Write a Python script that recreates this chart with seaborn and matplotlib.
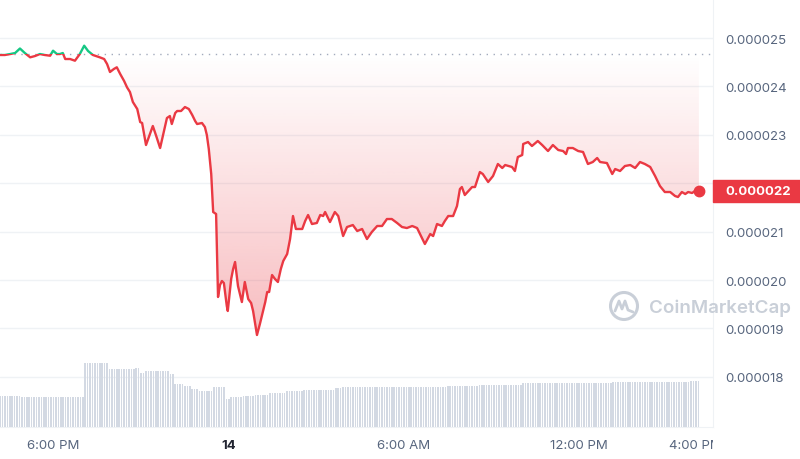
import numpy as np
import pandas as pd
import matplotlib
matplotlib.use("Agg")
import matplotlib.pyplot as plt
import matplotlib.dates as mdates
from matplotlib.patches import Rectangle, Circle
from matplotlib.lines import Line2D
from matplotlib.path import Path
from matplotlib.transforms import blended_transform_factory, Bbox, TransformedBbox
from matplotlib.colors import to_rgb
import seaborn as sns

# --- data ---
# minutes after 16:11 on the 13th, price in millionths of a dollar
minutes = [0, 10, 21, 31, 41, 51, 62, 72, 82, 92, 103, 109, 117, 123, 129, 134, 144, 154,
           164, 173, 181, 191, 199, 205, 214, 220, 226, 234, 240, 247, 255, 261, 267, 273,
           282, 288, 292, 300, 308, 314, 321, 329, 337, 343, 349, 353, 360, 364, 372, 380,
           388, 395, 401, 405, 415, 421, 425, 429, 434, 438, 444, 448, 452, 456, 460, 466,
           468, 475, 479, 483, 489, 497, 503, 510, 516, 520, 528, 534, 538, 545, 549, 553,
           559, 565, 571, 577, 582, 590, 596, 602, 608, 616, 621, 627, 633, 641, 651, 658,
           664, 668, 678, 688, 695, 705, 713, 725, 734, 744, 754, 764, 775, 785, 795, 805,
           816, 826, 836, 847, 857, 863, 873, 884, 890, 898, 908, 914, 921, 931, 939, 945,
           949, 955, 970, 976, 986, 992, 1003, 1013, 1023, 1032, 1038, 1052, 1058, 1064,
           1073, 1075, 1085, 1093, 1105, 1114, 1126, 1136, 1147, 1157, 1163, 1167, 1177,
           1188, 1198, 1208, 1218, 1227, 1233, 1247, 1258, 1264, 1274, 1284, 1295, 1305,
           1315, 1325, 1336, 1346, 1356, 1366, 1377, 1387, 1393, 1401, 1408, 1414, 1422,
           1428, 1436]
price_micro = [24.649, 24.649, 24.669, 24.690, 24.783, 24.690, 24.601, 24.628, 24.669, 24.649,
               24.634, 24.738, 24.669, 24.669, 24.690, 24.566, 24.566, 24.531, 24.669, 24.841,
               24.731, 24.649, 24.622, 24.601, 24.566, 24.463, 24.298, 24.360, 24.395, 24.256,
               24.112, 23.981, 23.884, 23.678, 23.533, 23.264, 23.244, 22.789, 23.017, 23.182,
               22.975, 22.727, 23.079, 23.347, 23.388, 23.223, 23.450, 23.492, 23.492, 23.574,
               23.533, 23.409, 23.285, 23.223, 23.244, 23.161, 22.996, 22.707, 22.190, 21.405,
               21.364, 19.649, 19.897, 19.979, 19.938, 19.463, 19.360, 20.021, 20.227, 20.372,
               19.876, 19.545, 19.959, 19.607, 19.525, 19.360, 18.864, 19.091, 19.256, 19.545,
               19.752, 19.752, 20.103, 20.021, 19.959, 20.227, 20.393, 20.537, 20.847, 21.322,
               21.054, 21.054, 21.054, 21.219, 21.343, 21.157, 21.178, 21.343, 21.322, 21.405,
               21.198, 21.405, 21.322, 20.909, 21.095, 21.136, 21.012, 21.054, 20.847, 20.992,
               21.116, 21.116, 21.260, 21.260, 21.178, 21.095, 21.074, 21.116, 21.074, 20.950,
               20.744, 20.950, 20.909, 21.157, 21.116, 21.219, 21.322, 21.322, 21.529, 21.880,
               21.921, 21.756, 21.921, 21.921, 22.231, 22.190, 22.025, 22.149, 22.397, 22.314,
               22.376, 22.335, 22.252, 22.541, 22.583, 22.810, 22.851, 22.769, 22.872, 22.789,
               22.665, 22.789, 22.686, 22.665, 22.603, 22.727, 22.727, 22.665, 22.645, 22.397,
               22.438, 22.521, 22.438, 22.417, 22.190, 22.293, 22.252, 22.355, 22.376, 22.314,
               22.438, 22.397, 22.335, 22.149, 21.942, 21.818, 21.818, 21.736, 21.715, 21.818,
               21.777, 21.818, 21.798, 21.839, 21.839]
open_micro = 24.669

# 5-minute volume bars (millions), as runs of equal level
vol_levels = [3.10, 2.97, 6.37, 5.80, 5.90, 5.37, 5.57, 5.30, 4.30, 4.07, 3.80, 3.63, 4.03,
              2.80, 2.97, 3.13, 3.23, 3.37, 3.57, 3.73, 3.87, 4.05, 3.97, 4.03, 4.10, 4.23,
              4.37, 4.47, 4.63]
vol_counts = [9, 26, 10, 11, 2, 2, 10, 2, 4, 3, 3, 6, 5, 2, 5, 5, 6, 7, 7, 13, 3, 16, 17,
              10, 13, 18, 37, 32, 4]

y_ticks = [0.000018, 0.000019, 0.000020, 0.000021, 0.000022, 0.000023, 0.000024, 0.000025]
x_tick_times = ["2024-05-13 18:00", "2024-05-14 00:00", "2024-05-14 06:00",
                "2024-05-14 12:00", "2024-05-14 16:00"]
x_tick_labels = ["6:00 PM", "14", "6:00 AM", "12:00 PM", "4:00 PM"]

start = pd.Timestamp("2024-05-13 16:11")
df = pd.DataFrame({"time": start + pd.to_timedelta(minutes, unit="min"),
                   "price": np.array(price_micro) * 1e-6})
vol = pd.DataFrame({"time": pd.date_range(start, periods=sum(vol_counts), freq="5min"),
                    "volume": np.repeat(vol_levels, vol_counts)})
ref = open_micro * 1e-6

RED = "#ea3943"
GREEN = "#16c784"
GREY = "#58667e"
WM = "#c9cfd8"

sns.set_style("white")
plt.rcParams["font.family"] = ["Inter", "DejaVu Sans"]

fig = plt.figure(figsize=(8, 4.6), dpi=100)
ax = fig.add_axes([0, 32 / 460, 713 / 800, 428 / 460])

# volume on its own scale at the bottom
ax2 = ax.twinx()
ax2.bar(vol["time"], vol["volume"], width=3.2 / 1440, color="#d3d9e3", linewidth=0)
ax2.set_ylim(0, 42.8)
ax2.set_yticks([])
for s in ax2.spines.values():
    s.set_visible(False)

# gradient fill between price and opening price
poly = ax.fill_between(df["time"], df["price"], ref, where=df["price"] < ref,
                       interpolate=True, facecolor="none", edgecolor="none")
clip = Path.make_compound_path(*poly.get_paths())
grad = np.zeros((256, 1, 4))
grad[..., :3] = to_rgb(RED)
grad[:, 0, 3] = np.linspace(0.36, 0.0, 256)
t0 = mdates.date2num(df["time"].iloc[0])
t1 = mdates.date2num(df["time"].iloc[-1])
im = ax.imshow(grad, extent=[t0, t1, 18.5e-6, ref], aspect="auto", origin="lower", zorder=1)
im.set_clip_path(clip, ax.transData)

# price line: red below the open, green above
sns.lineplot(data=df, x="time", y="price", ax=ax, color=RED, lw=1.7, zorder=3)
ax.lines[-1].set_clip_path(Rectangle((t0 - 1, 0), 3, ref, transform=ax.transData))
sns.lineplot(data=df, x="time", y="price", ax=ax, color=GREEN, lw=1.7, zorder=3)
ax.lines[-1].set_clip_path(Rectangle((t0 - 1, ref), 3, 1, transform=ax.transData))
ax.axhline(ref, color="#a3abbd", lw=1, ls=(0, (1, 4)), zorder=2)

last = df.iloc[-1]
ax.plot([last["time"]], [last["price"]], "o", color=RED, ms=7.5, zorder=4)

ax.set_xlim(start, start + pd.Timedelta(minutes=1465))
ax.set_ylim(16.963e-6, 25.806e-6)

ax.yaxis.tick_right()
ax.set_yticks(y_ticks)
ax.set_yticklabels([f"{v:.6f}" for v in y_ticks])
ax.set_xticks(pd.to_datetime(x_tick_times))
ax.set_xticklabels(x_tick_labels)
ax.tick_params(axis="y", length=0, pad=9, labelsize=9.5, labelcolor=GREY)
ax.tick_params(axis="x", length=0, pad=9, labelsize=9.5, labelcolor=GREY)
for lbl in ax.get_xticklabels():
    if lbl.get_text() == "14":
        lbl.set_fontweight("bold")
        lbl.set_color("#222531")
    lbl.set_clip_on(True)
    lbl.set_clip_box(TransformedBbox(Bbox([[0, 0], [713 / 800, 1]]), fig.transFigure))
ax.set_xlabel("")
ax.set_ylabel("")
ax.grid(axis="y", color="#eff2f5", lw=1)
ax.set_axisbelow(True)
for side in ["top", "left"]:
    ax.spines[side].set_visible(False)
for side in ["right", "bottom"]:
    ax.spines[side].set_color("#eff2f5")

# current price tag
trans = blended_transform_factory(fig.transFigure, ax.transData)
box_h = 0.46e-6
fig.add_artist(Rectangle((713 / 800, last["price"] - box_h / 2), 87 / 800, box_h,
                         transform=trans, color=RED, zorder=3))
fig.text(725 / 800, last["price"], "0.000022", transform=trans, color="white",
         fontsize=9.5, fontweight="bold", va="center", zorder=4)

# watermark
fig.add_artist(Circle((6.24, 1.53), 0.135, transform=fig.dpi_scale_trans, fill=False,
                      ec=WM, lw=2.2))
fig.add_artist(Line2D([6.15, 6.19, 6.22, 6.25, 6.28, 6.33], [1.48, 1.58, 1.50, 1.58, 1.49, 1.47],
                      transform=fig.dpi_scale_trans, color=WM, lw=2))
fig.text(649 / 800, 1 - 308 / 460, "CoinMarketCap", color=WM, fontsize=13.5,
         fontweight="semibold", va="center")

fig.savefig("out.png", dpi=100, facecolor="white")
